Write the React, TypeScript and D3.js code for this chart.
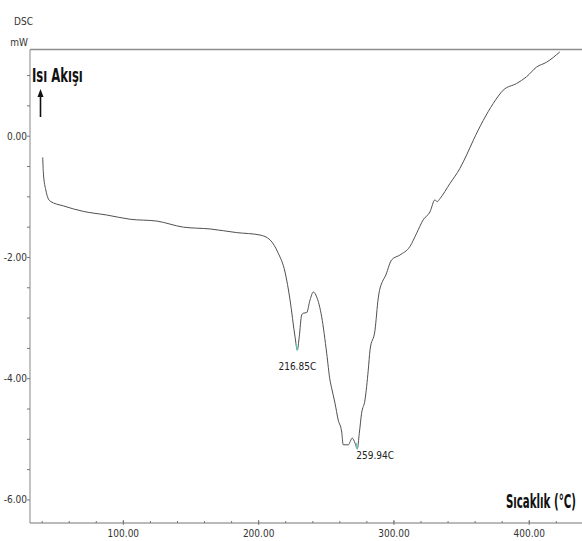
import React from 'react';
import * as d3 from 'd3';

// DSC eğrisi (x ekseni birimi, mW)
const temps = [
  40.4, 40.9, 42.7, 45.8, 55.7, 70.4, 87.7, 105.0, 124.7, 144.3, 164.1, 183.8,
  201.0, 208.4, 214.5, 219.5, 223.2, 226.9, 228.6, 230.0, 231.8, 233.0, 235.5,
  238.0, 240.4, 242.9, 246.6, 250.3, 252.7, 253.9, 256.4, 258.8, 261.4, 262.5,
  266.2, 269.2, 271.2, 272.9, 274.4, 276.1, 278.6, 281.0, 282.3, 286.0, 288.4,
  292.1, 293.4, 298.3, 304.4, 311.8, 316.8, 321.6, 326.6, 330.3, 332.0, 334.0,
  341.4, 348.8, 353.7, 358.6, 366.0, 373.4, 380.8, 390.7, 398.0, 405.4, 412.8,
  422.6,
];
const heatFlow = [
  -0.35, -0.61, -0.89, -1.07, -1.15, -1.24, -1.3, -1.37, -1.4, -1.5, -1.53,
  -1.59, -1.63, -1.71, -1.93, -2.24, -2.7, -3.31, -3.53, -3.31, -2.95, -2.92,
  -2.91, -2.7, -2.57, -2.65, -2.98, -3.58, -4.02, -4.15, -4.4, -4.68, -4.88,
  -5.09, -5.09, -4.98, -5.06, -5.16, -4.9, -4.57, -4.35, -3.86, -3.53, -3.2,
  -2.67, -2.37, -2.32, -2.04, -1.96, -1.82, -1.6, -1.38, -1.25, -1.05, -1.08,
  -1.03, -0.78, -0.53, -0.31, -0.07, 0.26, 0.54, 0.76, 0.87, 0.98, 1.14, 1.22,
  1.39,
];
const peakTemps = [228.6, 272.9];
const peakLabels = ['216.85C', '259.94C'];
const xTickValues = [100, 200, 300, 400];
const yTickValues = [0, -2, -4, -6];

const W = 582;
const H = 541;
const narrow = "'Liberation Sans Narrow', 'DejaVu Sans Condensed', Arial, sans-serif";

export default function App() {
  const x = d3.scaleLinear().domain([31, 439]).range([30, 582]);
  const y = d3.scaleLinear().domain([1.43, -6.38]).range([49.5, 523]);

  const pts: [number, number][] = temps.map((t, i) => [t, heatFlow[i]]);
  const path = d3
    .line<[number, number]>()
    .x((d) => x(d[0]))
    .y((d) => y(d[1]))
    .curve(d3.curveMonotoneX)(pts);

  const xMinor = d3.range(40, 440, 20);
  const yMinor = d3.range(-6, 1.01, 0.5);
  const [xLeft, xRight] = x.range();
  const [yTop, yBottom] = y.range();

  return (
    <svg
      width={W}
      height={H}
      style={{ position: 'absolute', left: 0, top: 0, background: '#fff' }}
    >
      {/* eksenler */}
      <line x1={xLeft} x2={xRight} y1={yTop} y2={yTop} stroke="#8c8c8c" strokeWidth={1.5} />
      <line x1={xLeft} x2={xLeft} y1={yTop} y2={yBottom} stroke="#9a9a9a" strokeWidth={1.2} />
      <line x1={xLeft} x2={xRight} y1={yBottom} y2={yBottom} stroke="#777" strokeWidth={1.2} />

      {/* y eksen çentikleri */}
      {yMinor.map((v) => (
        <line key={'ym' + v} x1={xLeft - 3} x2={xLeft} y1={y(v)} y2={y(v)} stroke="#777" />
      ))}
      {yTickValues.map((v) => (
        <text
          key={'yl' + v}
          x={xLeft - 3}
          y={y(v)}
          dy="0.35em"
          textAnchor="end"
          fontSize={10}
          fontFamily={narrow}
          fill="#333"
        >
          {v.toFixed(2)}
        </text>
      ))}

      {/* x eksen çentikleri */}
      {xMinor.map((v) => (
        <line key={'xm' + v} x1={x(v)} x2={x(v)} y1={yBottom - 2} y2={yBottom} stroke="#777" />
      ))}
      {xTickValues.map((v) => (
        <g key={'xl' + v}>
          <line x1={x(v)} x2={x(v)} y1={yBottom - 3} y2={yBottom + 2} stroke="#777" />
          <text
            x={x(v)}
            y={yBottom + 14}
            textAnchor="middle"
            fontSize={10}
            fontFamily={narrow}
            fill="#333"
          >
            {v.toFixed(2)}
          </text>
        </g>
      ))}

      {/* eğri */}
      <path d={path || ''} fill="none" stroke="#505050" strokeWidth={1} />

      {/* tepe noktaları */}
      {peakTemps.map((t, i) => {
        const v = heatFlow[temps.indexOf(t)];
        return (
          <g key={'pk' + i}>
            <line x1={x(t) - 1} x2={x(t)} y1={y(v) - 6} y2={y(v)} stroke="#6cc" strokeWidth={1.2} />
            <text
              x={i === 0 ? x(t) : x(t) - 1}
              y={i === 0 ? y(v) + 20 : y(v) + 10}
              textAnchor={i === 0 ? 'middle' : 'start'}
              fontSize={10}
              fontFamily={narrow}
              fill="#222"
            >
              {peakLabels[i]}
            </text>
          </g>
        );
      })}

      {/* birim etiketleri */}
      <text x={33} y={25} textAnchor="end" fontSize={10} fontFamily={narrow} fill="#333">
        DSC
      </text>
      <text x={28} y={46} textAnchor="end" fontSize={10} fontFamily={narrow} fill="#333">
        mW
      </text>

      <text
        transform="translate(32,82) scale(0.68,1)"
        fontSize={19}
        fontWeight="bold"
        fontFamily={narrow}
        fill="#111"
      >
        Isı Akışı
      </text>
      <line x1={40.5} x2={40.5} y1={117} y2={96} stroke="#111" strokeWidth={1.6} />
      <path d="M37.5,97 L40.5,89 L43.5,97 Z" fill="#111" />

      <text
        transform="translate(576,508) scale(0.6,1)"
        textAnchor="end"
        fontSize={19}
        fontWeight="bold"
        fontFamily={narrow}
        fill="#111"
      >
        Sıcaklık (°C)
      </text>
    </svg>
  );
}
